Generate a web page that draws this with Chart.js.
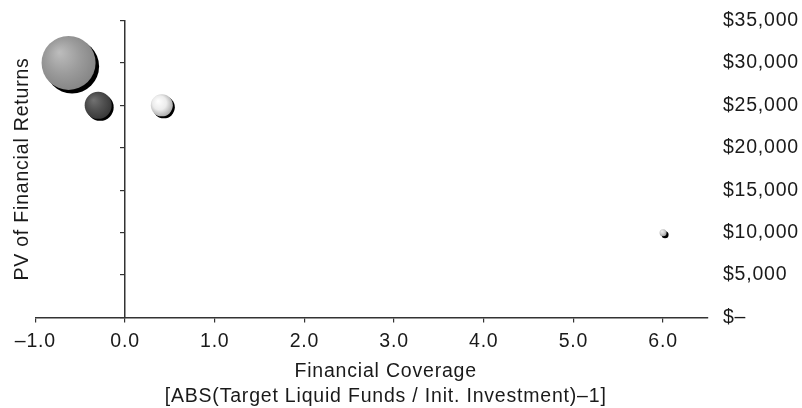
<!DOCTYPE html>
<html>
<head>
<meta charset="utf-8">
<script src="https://cdn.jsdelivr.net/npm/chart.js@4.4.0/dist/chart.umd.min.js"></script>
<style>
  html, body { margin: 0; padding: 0; background: #ffffff; }
  #wrap { width: 802px; height: 408px; }
</style>
</head>
<body>
<div id="wrap"><canvas id="chart" width="802" height="408"></canvas></div>
<script>
// Financial coverage vs. present value of returns, one bubble per option
const coverage   = [-0.63, -0.30, 0.41, 6.0];
const pvReturns  = [30000, 25000, 25000, 10000];
const bubbleRadius = [27, 13.5, 11, 3.5];

// Axis ticks
const xTicks = [-1, 0, 1, 2, 3, 4, 5, 6];
const yTicks = [0, 5000, 10000, 15000, 20000, 25000, 30000, 35000];

// Shading per bubble: [highlight, body, rim]
const shades = [
  ['#bdbdbd', '#9c9c9c', '#858585'],
  ['#727272', '#505050', '#383838'],
  ['#ffffff', '#ececec', '#a9a9a9'],
  ['#f0f0f0', '#cfcfcf', '#9a9a9a']
];

const FONT = "'Liberation Sans', Arial, Helvetica, sans-serif";
const SIZE = 19.5;
const TEXT = '#1a1a1a';
const TRACKING = '0.8px';

// Slightly open letter spacing for every label
const tracking = {
  id: 'tracking',
  beforeUpdate(chart) { chart.ctx.letterSpacing = TRACKING; },
  beforeDraw(chart) { chart.ctx.letterSpacing = TRACKING; }
};

// Black drop shadow plus spherical shading, computed from each element's drawn position
const sphereLook = {
  id: 'sphereLook',
  beforeDatasetDraw(chart, args) {
    const c = chart.ctx;
    c.save();
    c.fillStyle = '#000000';
    args.meta.data.forEach((el, i) => {
      const r = el.options.radius;
      const off = Math.max(2, r * 0.13);
      c.beginPath();
      c.arc(el.x + off, el.y + off, r, 0, Math.PI * 2);
      c.fill();
      const s = shades[i % shades.length];
      const g = c.createRadialGradient(el.x - r * 0.35, el.y - r * 0.4, 0, el.x - r * 0.1, el.y - r * 0.1, r * 1.15);
      g.addColorStop(0, s[0]);
      g.addColorStop(0.55, s[1]);
      g.addColorStop(1, s[2]);
      el.options.backgroundColor = g;
    });
    c.restore();
  }
};

// Bottom axis: tick padding only above the labels, title nudged right of the plot centre
function fitCoverageAxis(scale) {
  scale.height -= scale.options.ticks.padding;
  if (scale._titleShifted) return;
  const draw = scale.drawTitle.bind(scale);
  scale.drawTitle = function () {
    scale.ctx.save();
    scale.ctx.translate(14, 0);
    draw();
    scale.ctx.restore();
  };
  scale._titleShifted = true;
}

// Right value labels: gap only on the plot side, no extra vertical margin
function fitValueAxis(scale) {
  scale.width -= scale.options.ticks.padding;
  scale.paddingTop = 0;
  scale.paddingBottom = 0;
}

const points = coverage.map((x, i) => ({ x: x, y: pvReturns[i], r: bubbleRadius[i] }));

new Chart(document.getElementById('chart'), {
  type: 'bubble',
  data: {
    datasets: [{
      data: points,
      backgroundColor: shades.map(s => s[1]),
      borderWidth: 0,
      hoverBorderWidth: 0,
      yAxisID: 'y'
    }]
  },
  plugins: [tracking, sphereLook],
  options: {
    responsive: false,
    animation: false,
    events: [],
    layout: { autoPadding: false, padding: { top: 20.5, right: 3, bottom: 0, left: 0 } },
    plugins: { legend: { display: false }, tooltip: { enabled: false } },
    scales: {
      x: {
        type: 'linear',
        position: 'bottom',
        min: -1,
        max: 6.5,
        afterBuildTicks: s => { s.ticks = xTicks.map(v => ({ value: v })); },
        afterFit: fitCoverageAxis,
        ticks: {
          color: TEXT,
          font: { family: FONT, size: SIZE, lineHeight: 1.2 },
          padding: 7,
          maxRotation: 0,
          callback: v => (v < 0 ? '\u2013' + Math.abs(v).toFixed(1) : v.toFixed(1))
        },
        grid: { display: true, drawOnChartArea: false, drawTicks: true, tickLength: 5, color: '#333', lineWidth: 1.2 },
        border: { display: true, color: '#333', width: 1.5 },
        title: {
          display: true,
          text: ['Financial Coverage', '[ABS(Target Liquid Funds / Init. Investment)\u20131]'],
          color: TEXT,
          font: { family: FONT, size: SIZE, lineHeight: 1.3 },
          padding: { top: 5.6, bottom: -1.2 }
        }
      },
      y: {
        type: 'linear',
        position: 'right',
        min: 0,
        max: 35000,
        afterBuildTicks: s => { s.ticks = yTicks.map(v => ({ value: v })); },
        afterFit: fitValueAxis,
        ticks: {
          color: TEXT,
          font: { family: FONT, size: SIZE, lineHeight: 1.2 },
          padding: 3,
          callback: v => (v === 0 ? '$\u2013' : '$' + v.toLocaleString('en-US'))
        },
        // invisible tick marks keep the labels clear of the plot edge
        grid: { display: true, drawOnChartArea: false, drawTicks: true, tickLength: 12, color: 'rgba(0,0,0,0)' },
        border: { display: false }
      },
      yAxisLine: {
        type: 'linear',
        axis: 'y',
        position: { x: 0 },
        min: 0,
        max: 35000,
        afterBuildTicks: s => { s.ticks = yTicks.map(v => ({ value: v })); },
        ticks: { display: false },
        grid: { display: true, drawOnChartArea: false, drawTicks: true, tickLength: 4, color: '#333', lineWidth: 1.2 },
        border: { display: true, color: '#333', width: 1.5 }
      },
      yTitle: {
        type: 'linear',
        axis: 'y',
        position: 'left',
        min: 0,
        max: 35000,
        ticks: { display: false },
        grid: { display: false, drawTicks: false },
        border: { display: false },
        title: {
          display: true,
          text: 'PV of Financial Returns',
          color: TEXT,
          font: { family: FONT, size: SIZE, lineHeight: 1.2 },
          padding: { top: 11, bottom: 1 }
        }
      }
    }
  }
});
</script>
</body>
</html>
